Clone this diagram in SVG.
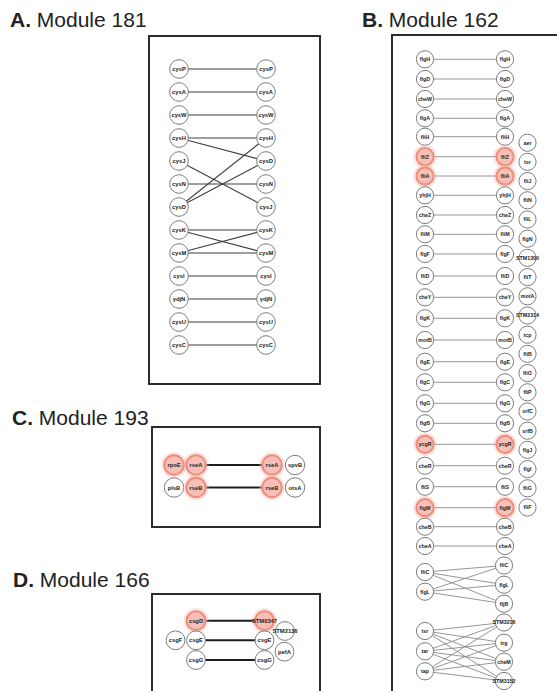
<svg xmlns="http://www.w3.org/2000/svg" width="557" height="691" viewBox="0 0 557 691">
<style>
.title{font-family:"Liberation Sans",Arial,sans-serif;font-size:21px;fill:#222}
.title .b{font-weight:bold}
.box{fill:none;stroke:#2b2b2b;stroke-width:2}
.n circle{fill:#fff;stroke:#7d7d7d;stroke-width:1}
.n text{font-family:"Liberation Sans",Arial,sans-serif;font-weight:bold;fill:#222;text-anchor:middle}
.a text{font-size:5.8px}
.b text{font-size:5.3px}
.c text{font-size:5.8px}
.h circle{fill:#f6c0b8;stroke:#ef8c7a;stroke-width:2}
.h circle.glow{fill:none;stroke:#f6b0a4;stroke-width:3;stroke-opacity:0.35}
.ea line{stroke:#3f3f3f;stroke-width:1.1}
.eb line{stroke:#8a8a8a;stroke-width:0.9}
.ec line{stroke:#1e1e1e;stroke-width:2}
</style>
<rect width="557" height="691" fill="#fff"/>
<text class="title" x="10" y="27"><tspan class="b">A.</tspan> Module 181</text>
<text class="title" x="362" y="27"><tspan class="b">B.</tspan> Module 162</text>
<text class="title" x="12" y="425"><tspan class="b">C.</tspan> Module 193</text>
<text class="title" x="13" y="587"><tspan class="b">D.</tspan> Module 166</text>
<rect class="box" x="149" y="36" width="171" height="348"/>
<rect class="box" x="392" y="35" width="200" height="700"/>
<rect class="box" x="152" y="427" width="168" height="100"/>
<rect class="box" x="152" y="594" width="168" height="120"/>
<g id="connectors">
<g class="ea">
<line x1="179" y1="69" x2="266" y2="69"/>
<line x1="179" y1="92" x2="266" y2="92"/>
<line x1="179" y1="115" x2="266" y2="115"/>
<line x1="179" y1="138" x2="266" y2="138"/>
<line x1="179" y1="138" x2="266" y2="161"/>
<line x1="179" y1="161" x2="266" y2="207"/>
<line x1="179" y1="184" x2="266" y2="184"/>
<line x1="179" y1="207" x2="266" y2="138"/>
<line x1="179" y1="207" x2="266" y2="161"/>
<line x1="179" y1="230" x2="266" y2="230"/>
<line x1="179" y1="230" x2="266" y2="253"/>
<line x1="179" y1="253" x2="266" y2="230"/>
<line x1="179" y1="253" x2="266" y2="253"/>
<line x1="179" y1="276" x2="266" y2="276"/>
<line x1="179" y1="299" x2="266" y2="299"/>
<line x1="179" y1="322" x2="266" y2="322"/>
<line x1="179" y1="345" x2="266" y2="345"/>
</g>
<g class="eb">
<line x1="425" y1="59.3" x2="505" y2="59.3"/>
<line x1="425" y1="79" x2="505" y2="79"/>
<line x1="425" y1="99" x2="505" y2="99"/>
<line x1="425" y1="118.3" x2="505" y2="118.3"/>
<line x1="425" y1="136.7" x2="505" y2="136.7"/>
<line x1="425" y1="156.7" x2="505" y2="156.7"/>
<line x1="425" y1="176" x2="505" y2="176"/>
<line x1="425" y1="195.3" x2="505" y2="195.3"/>
<line x1="425" y1="215" x2="505" y2="215"/>
<line x1="425" y1="234.3" x2="505" y2="234.3"/>
<line x1="425" y1="254" x2="505" y2="254"/>
<line x1="425" y1="276" x2="505" y2="276"/>
<line x1="425" y1="297.3" x2="505" y2="297.3"/>
<line x1="425" y1="318.3" x2="505" y2="318.3"/>
<line x1="425" y1="340" x2="505" y2="340"/>
<line x1="425" y1="361.7" x2="505" y2="361.7"/>
<line x1="425" y1="382.3" x2="505" y2="382.3"/>
<line x1="425" y1="403.3" x2="505" y2="403.3"/>
<line x1="425" y1="423.3" x2="505" y2="423.3"/>
<line x1="425" y1="444.3" x2="505" y2="444.3"/>
<line x1="425" y1="465.7" x2="505" y2="465.7"/>
<line x1="425" y1="486.7" x2="505" y2="486.7"/>
<line x1="425" y1="507.7" x2="505" y2="507.7"/>
<line x1="425" y1="526.7" x2="505" y2="526.7"/>
<line x1="425" y1="546" x2="505" y2="546"/>
<line x1="425" y1="572" x2="504" y2="565.5"/>
<line x1="425" y1="572" x2="504" y2="584.7"/>
<line x1="425" y1="572" x2="504" y2="603.7"/>
<line x1="425" y1="591.7" x2="504" y2="565.5"/>
<line x1="425" y1="591.7" x2="504" y2="584.7"/>
<line x1="425" y1="591.7" x2="504" y2="603.7"/>
<line x1="425" y1="631" x2="504" y2="622.5"/>
<line x1="425" y1="631" x2="504" y2="642.7"/>
<line x1="425" y1="631" x2="504" y2="661.7"/>
<line x1="425" y1="631" x2="504" y2="681"/>
<line x1="425" y1="651.3" x2="504" y2="622.5"/>
<line x1="425" y1="651.3" x2="504" y2="642.7"/>
<line x1="425" y1="651.3" x2="504" y2="661.7"/>
<line x1="425" y1="651.3" x2="504" y2="681"/>
<line x1="425" y1="671.3" x2="504" y2="622.5"/>
<line x1="425" y1="671.3" x2="504" y2="642.7"/>
<line x1="425" y1="671.3" x2="504" y2="661.7"/>
<line x1="425" y1="671.3" x2="504" y2="681"/>
</g>
<g class="ec">
<line x1="196" y1="465" x2="272" y2="465"/>
<line x1="196" y1="487.5" x2="272" y2="487.5"/>
<line x1="196" y1="620.7" x2="264.5" y2="620.7"/>
<line x1="196" y1="640.3" x2="264.5" y2="640.3"/>
<line x1="196" y1="660" x2="264.5" y2="660"/>
</g>
</g>
<!-- Module A nodes -->
<g id="a-L-cysP" class="n a"><circle cx="179" cy="69" r="9.3"/><text x="179" y="71">cysP</text></g>
<g id="a-L-cysA" class="n a"><circle cx="179" cy="92" r="9.3"/><text x="179" y="94">cysA</text></g>
<g id="a-L-cysW" class="n a"><circle cx="179" cy="115" r="9.3"/><text x="179" y="117">cysW</text></g>
<g id="a-L-cysH" class="n a"><circle cx="179" cy="138" r="9.3"/><text x="179" y="140">cysH</text></g>
<g id="a-L-cysJ" class="n a"><circle cx="179" cy="161" r="9.3"/><text x="179" y="163">cysJ</text></g>
<g id="a-L-cysN" class="n a"><circle cx="179" cy="184" r="9.3"/><text x="179" y="186">cysN</text></g>
<g id="a-L-cysD" class="n a"><circle cx="179" cy="207" r="9.3"/><text x="179" y="209">cysD</text></g>
<g id="a-L-cysK" class="n a"><circle cx="179" cy="230" r="9.3"/><text x="179" y="232">cysK</text></g>
<g id="a-L-cysM" class="n a"><circle cx="179" cy="253" r="9.3"/><text x="179" y="255">cysM</text></g>
<g id="a-L-cysI" class="n a"><circle cx="179" cy="276" r="9.3"/><text x="179" y="278">cysI</text></g>
<g id="a-L-ydjN" class="n a"><circle cx="179" cy="299" r="9.3"/><text x="179" y="301">ydjN</text></g>
<g id="a-L-cysU" class="n a"><circle cx="179" cy="322" r="9.3"/><text x="179" y="324">cysU</text></g>
<g id="a-L-cysC" class="n a"><circle cx="179" cy="345" r="9.3"/><text x="179" y="347">cysC</text></g>
<g id="a-R-cysP" class="n a"><circle cx="266" cy="69" r="9.3"/><text x="266" y="71">cysP</text></g>
<g id="a-R-cysA" class="n a"><circle cx="266" cy="92" r="9.3"/><text x="266" y="94">cysA</text></g>
<g id="a-R-cysW" class="n a"><circle cx="266" cy="115" r="9.3"/><text x="266" y="117">cysW</text></g>
<g id="a-R-cysH" class="n a"><circle cx="266" cy="138" r="9.3"/><text x="266" y="140">cysH</text></g>
<g id="a-R-cysD" class="n a"><circle cx="266" cy="161" r="9.3"/><text x="266" y="163">cysD</text></g>
<g id="a-R-cysN" class="n a"><circle cx="266" cy="184" r="9.3"/><text x="266" y="186">cysN</text></g>
<g id="a-R-cysJ" class="n a"><circle cx="266" cy="207" r="9.3"/><text x="266" y="209">cysJ</text></g>
<g id="a-R-cysK" class="n a"><circle cx="266" cy="230" r="9.3"/><text x="266" y="232">cysK</text></g>
<g id="a-R-cysM" class="n a"><circle cx="266" cy="253" r="9.3"/><text x="266" y="255">cysM</text></g>
<g id="a-R-cysI" class="n a"><circle cx="266" cy="276" r="9.3"/><text x="266" y="278">cysI</text></g>
<g id="a-R-ydjN" class="n a"><circle cx="266" cy="299" r="9.3"/><text x="266" y="301">ydjN</text></g>
<g id="a-R-cysU" class="n a"><circle cx="266" cy="322" r="9.3"/><text x="266" y="324">cysU</text></g>
<g id="a-R-cysC" class="n a"><circle cx="266" cy="345" r="9.3"/><text x="266" y="347">cysC</text></g>
<!-- Module B nodes: left column -->
<g id="b-L-flgH" class="n b"><circle cx="425" cy="59.3" r="8.6"/><text x="425" y="61.2">flgH</text></g>
<g id="b-L-flgD" class="n b"><circle cx="425" cy="79" r="8.6"/><text x="425" y="80.9">flgD</text></g>
<g id="b-L-cheW" class="n b"><circle cx="425" cy="99" r="8.6"/><text x="425" y="100.9">cheW</text></g>
<g id="b-L-flgA" class="n b"><circle cx="425" cy="118.3" r="8.6"/><text x="425" y="120.2">flgA</text></g>
<g id="b-L-fliH" class="n b"><circle cx="425" cy="136.7" r="8.6"/><text x="425" y="138.6">fliH</text></g>
<g id="b-L-fliZ" class="n b h"><circle class="glow" cx="425" cy="156.7" r="10.2"/><circle cx="425" cy="156.7" r="8.6"/><text x="425" y="158.6">fliZ</text></g>
<g id="b-L-fliA" class="n b h"><circle class="glow" cx="425" cy="176" r="10.2"/><circle cx="425" cy="176" r="8.6"/><text x="425" y="177.9">fliA</text></g>
<g id="b-L-yhjH" class="n b"><circle cx="425" cy="195.3" r="8.6"/><text x="425" y="197.2">yhjH</text></g>
<g id="b-L-cheZ" class="n b"><circle cx="425" cy="215" r="8.6"/><text x="425" y="216.9">cheZ</text></g>
<g id="b-L-fliM" class="n b"><circle cx="425" cy="234.3" r="8.6"/><text x="425" y="236.2">fliM</text></g>
<g id="b-L-flgF" class="n b"><circle cx="425" cy="254" r="8.6"/><text x="425" y="255.9">flgF</text></g>
<g id="b-L-fliD" class="n b"><circle cx="425" cy="276" r="8.6"/><text x="425" y="277.9">fliD</text></g>
<g id="b-L-cheY" class="n b"><circle cx="425" cy="297.3" r="8.6"/><text x="425" y="299.2">cheY</text></g>
<g id="b-L-flgK" class="n b"><circle cx="425" cy="318.3" r="8.6"/><text x="425" y="320.2">flgK</text></g>
<g id="b-L-motB" class="n b"><circle cx="425" cy="340" r="8.6"/><text x="425" y="341.9">motB</text></g>
<g id="b-L-flgE" class="n b"><circle cx="425" cy="361.7" r="8.6"/><text x="425" y="363.6">flgE</text></g>
<g id="b-L-flgC" class="n b"><circle cx="425" cy="382.3" r="8.6"/><text x="425" y="384.2">flgC</text></g>
<g id="b-L-flgG" class="n b"><circle cx="425" cy="403.3" r="8.6"/><text x="425" y="405.2">flgG</text></g>
<g id="b-L-flgB" class="n b"><circle cx="425" cy="423.3" r="8.6"/><text x="425" y="425.2">flgB</text></g>
<g id="b-L-ycgR" class="n b h"><circle class="glow" cx="425" cy="444.3" r="10.2"/><circle cx="425" cy="444.3" r="8.6"/><text x="425" y="446.2">ycgR</text></g>
<g id="b-L-cheR" class="n b"><circle cx="425" cy="465.7" r="8.6"/><text x="425" y="467.6">cheR</text></g>
<g id="b-L-fliS" class="n b"><circle cx="425" cy="486.7" r="8.6"/><text x="425" y="488.6">fliS</text></g>
<g id="b-L-flgM" class="n b h"><circle class="glow" cx="425" cy="507.7" r="10.2"/><circle cx="425" cy="507.7" r="8.6"/><text x="425" y="509.6">flgM</text></g>
<g id="b-L-cheB" class="n b"><circle cx="425" cy="526.7" r="8.6"/><text x="425" y="528.6">cheB</text></g>
<g id="b-L-cheA" class="n b"><circle cx="425" cy="546" r="8.6"/><text x="425" y="547.9">cheA</text></g>
<g id="b-L-fliC" class="n b"><circle cx="425" cy="572" r="8.6"/><text x="425" y="573.9">fliC</text></g>
<g id="b-L-flgL" class="n b"><circle cx="425" cy="591.7" r="8.6"/><text x="425" y="593.6">flgL</text></g>
<g id="b-L-tsr" class="n b"><circle cx="425" cy="631" r="8.6"/><text x="425" y="632.9">tsr</text></g>
<g id="b-L-tar" class="n b"><circle cx="425" cy="651.3" r="8.6"/><text x="425" y="653.2">tar</text></g>
<g id="b-L-tap" class="n b"><circle cx="425" cy="671.3" r="8.6"/><text x="425" y="673.2">tap</text></g>
<!-- Module B nodes: right column -->
<g id="b-R-flgH" class="n b"><circle cx="505" cy="59.3" r="8.6"/><text x="505" y="61.2">flgH</text></g>
<g id="b-R-flgD" class="n b"><circle cx="505" cy="79" r="8.6"/><text x="505" y="80.9">flgD</text></g>
<g id="b-R-cheW" class="n b"><circle cx="505" cy="99" r="8.6"/><text x="505" y="100.9">cheW</text></g>
<g id="b-R-flgA" class="n b"><circle cx="505" cy="118.3" r="8.6"/><text x="505" y="120.2">flgA</text></g>
<g id="b-R-fliH" class="n b"><circle cx="505" cy="136.7" r="8.6"/><text x="505" y="138.6">fliH</text></g>
<g id="b-R-fliZ" class="n b h"><circle class="glow" cx="505" cy="156.7" r="10.2"/><circle cx="505" cy="156.7" r="8.6"/><text x="505" y="158.6">fliZ</text></g>
<g id="b-R-fliA" class="n b h"><circle class="glow" cx="505" cy="176" r="10.2"/><circle cx="505" cy="176" r="8.6"/><text x="505" y="177.9">fliA</text></g>
<g id="b-R-yhjH" class="n b"><circle cx="505" cy="195.3" r="8.6"/><text x="505" y="197.2">yhjH</text></g>
<g id="b-R-cheZ" class="n b"><circle cx="505" cy="215" r="8.6"/><text x="505" y="216.9">cheZ</text></g>
<g id="b-R-fliM" class="n b"><circle cx="505" cy="234.3" r="8.6"/><text x="505" y="236.2">fliM</text></g>
<g id="b-R-flgF" class="n b"><circle cx="505" cy="254" r="8.6"/><text x="505" y="255.9">flgF</text></g>
<g id="b-R-fliD" class="n b"><circle cx="505" cy="276" r="8.6"/><text x="505" y="277.9">fliD</text></g>
<g id="b-R-cheY" class="n b"><circle cx="505" cy="297.3" r="8.6"/><text x="505" y="299.2">cheY</text></g>
<g id="b-R-flgK" class="n b"><circle cx="505" cy="318.3" r="8.6"/><text x="505" y="320.2">flgK</text></g>
<g id="b-R-motB" class="n b"><circle cx="505" cy="340" r="8.6"/><text x="505" y="341.9">motB</text></g>
<g id="b-R-flgE" class="n b"><circle cx="505" cy="361.7" r="8.6"/><text x="505" y="363.6">flgE</text></g>
<g id="b-R-flgC" class="n b"><circle cx="505" cy="382.3" r="8.6"/><text x="505" y="384.2">flgC</text></g>
<g id="b-R-flgG" class="n b"><circle cx="505" cy="403.3" r="8.6"/><text x="505" y="405.2">flgG</text></g>
<g id="b-R-flgB" class="n b"><circle cx="505" cy="423.3" r="8.6"/><text x="505" y="425.2">flgB</text></g>
<g id="b-R-ycgR" class="n b h"><circle class="glow" cx="505" cy="444.3" r="10.2"/><circle cx="505" cy="444.3" r="8.6"/><text x="505" y="446.2">ycgR</text></g>
<g id="b-R-cheR" class="n b"><circle cx="505" cy="465.7" r="8.6"/><text x="505" y="467.6">cheR</text></g>
<g id="b-R-fliS" class="n b"><circle cx="505" cy="486.7" r="8.6"/><text x="505" y="488.6">fliS</text></g>
<g id="b-R-flgM" class="n b h"><circle class="glow" cx="505" cy="507.7" r="10.2"/><circle cx="505" cy="507.7" r="8.6"/><text x="505" y="509.6">flgM</text></g>
<g id="b-R-cheB" class="n b"><circle cx="505" cy="526.7" r="8.6"/><text x="505" y="528.6">cheB</text></g>
<g id="b-R-cheA" class="n b"><circle cx="505" cy="546" r="8.6"/><text x="505" y="547.9">cheA</text></g>
<g id="b-R-fliC" class="n b"><circle cx="504" cy="565.5" r="8.6"/><text x="504" y="567.4">fliC</text></g>
<g id="b-R-flgL" class="n b"><circle cx="504" cy="584.7" r="8.6"/><text x="504" y="586.6">flgL</text></g>
<g id="b-R-fljB" class="n b"><circle cx="504" cy="603.7" r="8.6"/><text x="504" y="605.6">fljB</text></g>
<g id="b-R-STM3216" class="n b"><circle cx="504" cy="622.5" r="8.6"/><text x="504" y="624.4">STM3216</text></g>
<g id="b-R-trg" class="n b"><circle cx="504" cy="642.7" r="8.6"/><text x="504" y="644.6">trg</text></g>
<g id="b-R-cheM" class="n b"><circle cx="504" cy="661.7" r="8.6"/><text x="504" y="663.6">cheM</text></g>
<g id="b-R-STM3152" class="n b"><circle cx="504" cy="681" r="8.6"/><text x="504" y="682.9">STM3152</text></g>
<!-- Module B nodes: unconnected column -->
<g id="b-aer" class="n b"><circle cx="527.5" cy="142.7" r="8.6"/><text x="527.5" y="144.6">aer</text></g>
<g id="b-tsr" class="n b"><circle cx="527.5" cy="161.9" r="8.6"/><text x="527.5" y="163.8">tsr</text></g>
<g id="b-fliJ" class="n b"><circle cx="527.5" cy="181.1" r="8.6"/><text x="527.5" y="183">fliJ</text></g>
<g id="b-fliN" class="n b"><circle cx="527.5" cy="200.3" r="8.6"/><text x="527.5" y="202.2">fliN</text></g>
<g id="b-fliL" class="n b"><circle cx="527.5" cy="219.5" r="8.6"/><text x="527.5" y="221.4">fliL</text></g>
<g id="b-flgN" class="n b"><circle cx="527.5" cy="238.7" r="8.6"/><text x="527.5" y="240.6">flgN</text></g>
<g id="b-STM1300" class="n b"><circle cx="527.5" cy="257.9" r="8.6"/><text x="527.5" y="259.8">STM1300</text></g>
<g id="b-fliT" class="n b"><circle cx="527.5" cy="277.1" r="8.6"/><text x="527.5" y="279">fliT</text></g>
<g id="b-motA" class="n b"><circle cx="527.5" cy="296.3" r="8.6"/><text x="527.5" y="298.2">motA</text></g>
<g id="b-STM2314" class="n b"><circle cx="527.5" cy="315.5" r="8.6"/><text x="527.5" y="317.4">STM2314</text></g>
<g id="b-tcp" class="n b"><circle cx="527.5" cy="334.7" r="8.6"/><text x="527.5" y="336.6">tcp</text></g>
<g id="b-fliB" class="n b"><circle cx="527.5" cy="353.9" r="8.6"/><text x="527.5" y="355.8">fliB</text></g>
<g id="b-fliO" class="n b"><circle cx="527.5" cy="373.1" r="8.6"/><text x="527.5" y="375">fliO</text></g>
<g id="b-fliP" class="n b"><circle cx="527.5" cy="392.3" r="8.6"/><text x="527.5" y="394.2">fliP</text></g>
<g id="b-srfC" class="n b"><circle cx="527.5" cy="411.5" r="8.6"/><text x="527.5" y="413.4">srfC</text></g>
<g id="b-srfB" class="n b"><circle cx="527.5" cy="430.7" r="8.6"/><text x="527.5" y="432.6">srfB</text></g>
<g id="b-flgJ" class="n b"><circle cx="527.5" cy="449.9" r="8.6"/><text x="527.5" y="451.8">flgJ</text></g>
<g id="b-flgI" class="n b"><circle cx="527.5" cy="469.1" r="8.6"/><text x="527.5" y="471">flgI</text></g>
<g id="b-fliG" class="n b"><circle cx="527.5" cy="488.3" r="8.6"/><text x="527.5" y="490.2">fliG</text></g>
<g id="b-fliF" class="n b"><circle cx="527.5" cy="507.5" r="8.6"/><text x="527.5" y="509.4">fliF</text></g>
<!-- Module C nodes -->
<g id="c-rpoE" class="n c h"><circle class="glow" cx="174" cy="465" r="11.3"/><circle cx="174" cy="465" r="9.7"/><text x="174" y="467">rpoE</text></g>
<g id="c-L-rseA" class="n c h"><circle class="glow" cx="196" cy="465" r="11.3"/><circle cx="196" cy="465" r="9.7"/><text x="196" y="467">rseA</text></g>
<g id="c-plsB" class="n c"><circle cx="174" cy="487.5" r="9.7"/><text x="174" y="489.5">plsB</text></g>
<g id="c-L-rseB" class="n c h"><circle class="glow" cx="196" cy="487.5" r="11.3"/><circle cx="196" cy="487.5" r="9.7"/><text x="196" y="489.5">rseB</text></g>
<g id="c-R-rseA" class="n c h"><circle class="glow" cx="272" cy="465" r="11.3"/><circle cx="272" cy="465" r="9.7"/><text x="272" y="467">rseA</text></g>
<g id="c-spvB" class="n c"><circle cx="295" cy="465" r="9.7"/><text x="295" y="467">spvB</text></g>
<g id="c-R-rseB" class="n c h"><circle class="glow" cx="272" cy="487.5" r="11.3"/><circle cx="272" cy="487.5" r="9.7"/><text x="272" y="489.5">rseB</text></g>
<g id="c-otsA" class="n c"><circle cx="295" cy="487.5" r="9.7"/><text x="295" y="489.5">otsA</text></g>
<!-- Module D nodes -->
<g id="d-csgD" class="n c h"><circle class="glow" cx="196" cy="620.7" r="11"/><circle cx="196" cy="620.7" r="9.4"/><text x="196" y="622.7">csgD</text></g>
<g id="d-STM0347" class="n c h"><circle class="glow" cx="264.5" cy="620.7" r="11"/><circle cx="264.5" cy="620.7" r="9.4"/><text x="264.5" y="622.7">STM0347</text></g>
<g id="d-STM2136" class="n c"><circle cx="285" cy="631" r="9.4"/><text x="285" y="633">STM2136</text></g>
<g id="d-csgF" class="n c"><circle cx="175.5" cy="640.3" r="9.4"/><text x="175.5" y="642.3">csgF</text></g>
<g id="d-L-csgE" class="n c"><circle cx="196" cy="640.3" r="9.4"/><text x="196" y="642.3">csgE</text></g>
<g id="d-R-csgE" class="n c"><circle cx="264.5" cy="640.3" r="9.4"/><text x="264.5" y="642.3">csgE</text></g>
<g id="d-pefA" class="n c"><circle cx="284.5" cy="651.7" r="9.4"/><text x="284.5" y="653.7">pefA</text></g>
<g id="d-L-csgG" class="n c"><circle cx="196" cy="660" r="9.4"/><text x="196" y="662">csgG</text></g>
<g id="d-R-csgG" class="n c"><circle cx="264.5" cy="660" r="9.4"/><text x="264.5" y="662">csgG</text></g>
</svg>
